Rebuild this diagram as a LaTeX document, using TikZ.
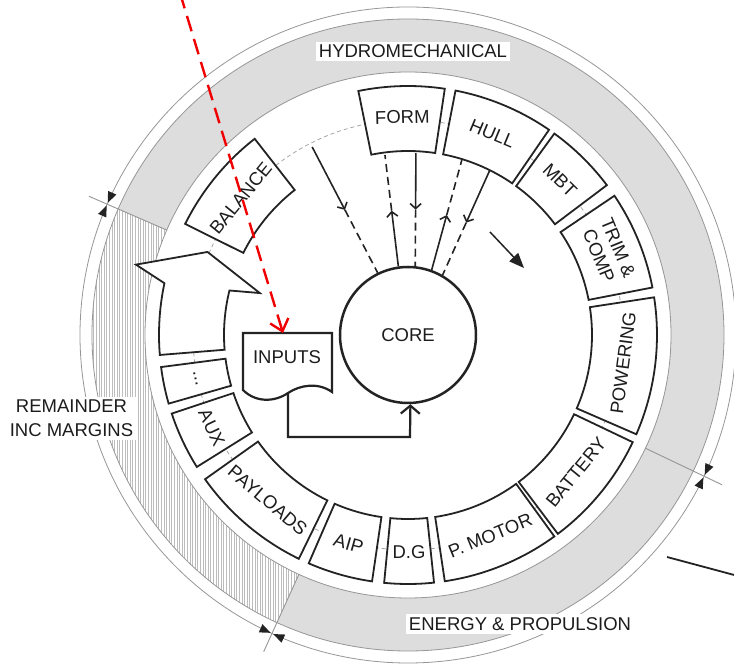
\documentclass[tikz,border=0pt]{standalone}
\usepackage{fontspec}
\setmainfont{Liberation Sans}
\usetikzlibrary{arrows.meta,calc,patterns.meta}

\definecolor{bandgray}{RGB}{221,221,221}
\definecolor{rimgray}{RGB}{150,150,150}
\definecolor{hatchgray}{RGB}{188,188,188}
\definecolor{guidegray}{RGB}{165,165,165}
\definecolor{ink}{RGB}{35,35,35}
\definecolor{txt}{RGB}{28,28,28}
\definecolor{flagred}{RGB}{240,0,0}

\newcommand{\lblfont}{\fontsize{18.5pt}{21pt}\selectfont}

% annular sector between the two box radii
\newcommand{\ringbox}[2]{%
  \draw[boxline] (#1:184) arc[start angle=#1,end angle=#2,radius=184]
    -- (#2:249) arc[start angle=#2,end angle=#1,radius=249] -- cycle;}

% segment of the outer band
\newcommand{\bandseg}[3]{%
  \path[#3] (#1:263) arc[start angle=#1,end angle=#2,radius=263]
    -- (#2:316) arc[start angle=#2,end angle=#1,radius=316] -- cycle;}

% divider across the band, with two facing arrowheads on the rim
\newcommand{\bandsplit}[1]{%
  \begin{scope}[rotate=#1]
    \draw[divline] (263,0) -- (348,0);
    \fill[ink] (328,1.5) -- (323.5,12.5) -- (332.5,12.5) -- cycle;
    \fill[ink] (328,-1.5) -- (323.5,-12.5) -- (332.5,-12.5) -- cycle;
  \end{scope}}

\begin{document}
\begin{tikzpicture}[x=1pt,y=1pt,
  lbl/.style={font=\lblfont, text=txt, inner sep=0pt, align=center},
  tagbox/.style={font=\lblfont, text=txt, fill=white, inner xsep=3pt, inner ysep=3pt},
  boxline/.style={draw=ink, line width=1.8pt, fill=white, line join=miter},
  rim/.style={draw=rimgray, line width=0.8pt},
  divline/.style={draw=rimgray, line width=0.9pt},
  guide/.style={draw=guidegray, line width=0.8pt, dash pattern=on 4pt off 3pt},
  flow/.style={draw=ink, line width=1.6pt},
  flowdash/.style={flow, dash pattern=on 8pt off 5pt},
  barb/.style={-{Straight Barb[length=5pt,width=11pt]}},
  redflag/.style={draw=flagred, line width=2.4pt, dash pattern=on 16pt off 8pt,
    -{Straight Barb[length=11pt,width=19pt,line width=2.4pt]}}]

\useasboundingbox (-408,-333) rectangle (326,335);
\clip (-408,-333) rectangle (326,335);

% outer band and rims
\bandseg{-25.5}{156.5}{fill=bandgray}
\bandseg{-114.5}{-25.5}{fill=bandgray}
\bandseg{156.5}{245.5}{pattern={Lines[angle=90,distance=2.6pt,line width=0.5pt]},pattern color=hatchgray}
\draw[rim] (0,0) circle[radius=263];
\draw[rim] (0,0) circle[radius=316];
\draw[rim] (0,0) circle[radius=328];
\bandsplit{156.5}
\bandsplit{-25.5}
\bandsplit{-114.5}

% band titles
\node[tagbox] (hydro) at (5,283.5) {HYDROMECHANICAL};
\node[tagbox] (energy) at (112,-289) {ENERGY \& PROPULSION};
\node[tagbox, align=center, font=\fontsize{18.5pt}{24pt}\selectfont, inner xsep=2.5pt] (remainder) at (-336.5,-83.5) {REMAINDER\\INC MARGINS};

% guide circle through the boxes
\draw[guide] (0,0) circle[radius=215];

% ring of boxes
\ringbox{128}{153.5}
\ringbox{81.5}{101.5}
\ringbox{55.5}{79}
\ringbox{37}{54}
\ringbox{11}{34}
\ringbox{-23.5}{8.7}
\ringbox{-53}{-25.5}
\ringbox{-81.5}{-54}
\ringbox{-95.5}{-84}
\ringbox{-113.5}{-98.3}
\ringbox{-144.6}{-116}
\ringbox{-161.6}{-148}
\ringbox{-172.6}{-164}

% curved block arrow closing the loop
\draw[boxline] (184.6:249) -- (184.6:184)
  arc[start angle=184.6,end angle=166,radius=184]
  -- (164.2:154) -- (157.5:217) -- (165.5:281) -- (168:249)
  arc[start angle=168,end angle=184.6,radius=249] -- cycle;

% box labels
\node[lbl, rotate=50.75] (balance) at (140.75:216) {BALANCE};
\node[lbl, rotate=1.5] (form) at (91.5:218) {FORM};
\node[lbl, rotate=-22.75] (hull) at (67.25:218) {HULL};
\node[lbl, rotate=-44.5] (mbt) at (45.5:217) {MBT};
\node[lbl, rotate=-67.5] (trim) at (22.5:217) {TRIM \&\\COMP};
\node[lbl, rotate=82.6] (powering) at (-7.4:217) {POWERING};
\node[lbl, rotate=50.75] (battery) at (-39.25:217) {BATTERY};
\node[lbl, rotate=22.25] (pmotor) at (-67.75:217) {P. MOTOR};
\node[lbl, rotate=0.25] (dg) at (-89.75:217) {D.G};
\node[lbl, rotate=-15.9] (aip) at (-105.9:217) {AIP};
\node[lbl, rotate=-40.3] (payloads) at (-130.3:217) {PAYLOADS};
\node[lbl, rotate=-64.8] (aux) at (-154.8:217) {AUX};
\node[lbl, rotate=-78.3] (etc) at (-168.3:217) {...};

% core
\node[draw=ink, line width=2.5pt, circle, minimum size=136pt, inner sep=0pt,
  font=\lblfont, text=txt, fill=white] (core) at (0,0) {CORE};

% exchanges between the core and the top boxes
\coordinate (l1a) at (117:211);
\coordinate (l1b) at (core.116.6);
\coordinate (l2a) at (97.3:181.5);
\coordinate (l2b) at (core.98.4);
\coordinate (l3a) at (87.5:182);
\coordinate (l3b) at (core.84);
\coordinate (l4a) at (72.9:183);
\coordinate (l4b) at (core.70.3);
\coordinate (l5a) at (63.6:184);
\coordinate (l5b) at (core.60.6);

\draw[flow, barb] (l1a) -- ($(l1a)!0.5!(l1b)$);
\draw[flowdash] ($(l1a)!0.5!(l1b)$) -- (l1b);
\draw[flow, barb] (l2b) -- ($(l2b)!0.5!(l2a)$);
\draw[flowdash] ($(l2b)!0.5!(l2a)$) -- (l2a);
\draw[flow, barb] (l3a) -- ($(l3a)!0.5!(l3b)$);
\draw[flowdash] ($(l3a)!0.5!(l3b)$) -- (l3b);
\draw[flow, barb] (l4b) -- ($(l4b)!0.5!(l4a)$);
\draw[flowdash] ($(l4b)!0.5!(l4a)$) -- (l4a);
\draw[flow, barb] (l5a) -- ($(l5a)!0.5!(l5b)$);
\draw[flowdash] ($(l5a)!0.5!(l5b)$) -- (l5b);

% direction of travel round the ring
\coordinate (spinA) at (82,103);
\coordinate (spinB) at (116,67);
\draw[ink, line width=1.5pt, -{Triangle[length=15pt,width=12pt]}] (spinA) -- (spinB);

% inputs document
\draw[ink, line width=2.2pt, fill=white, line join=miter] (-165,2) -- (-76,2) -- (-76,-57)
  .. controls (-90,-47) and (-108,-50) .. (-120,-58)
  .. controls (-133,-67) and (-152,-68) .. (-165,-55) -- cycle;
\node[lbl] (inputs) at (-121,-22) {INPUTS};
\coordinate (inputtop) at (-125,2);
\coordinate (infoot) at (-120,-58);
\coordinate (elbow) at (2,-102);
\draw[ink, line width=2.2pt, line join=miter, -{Straight Barb[length=8pt,width=19pt]}]
  (infoot) |- (elbow) -- (core.-88);

% leader line
\coordinate (leadA) at (259,-222);
\coordinate (leadB) at (330,-241);
\draw[ink, line width=1.8pt] (leadA) -- (leadB);

% red dashed pointer
\coordinate (redstart) at (-228,342);
\draw[redflag] (redstart) -- (inputtop);

\end{tikzpicture}
\end{document}
